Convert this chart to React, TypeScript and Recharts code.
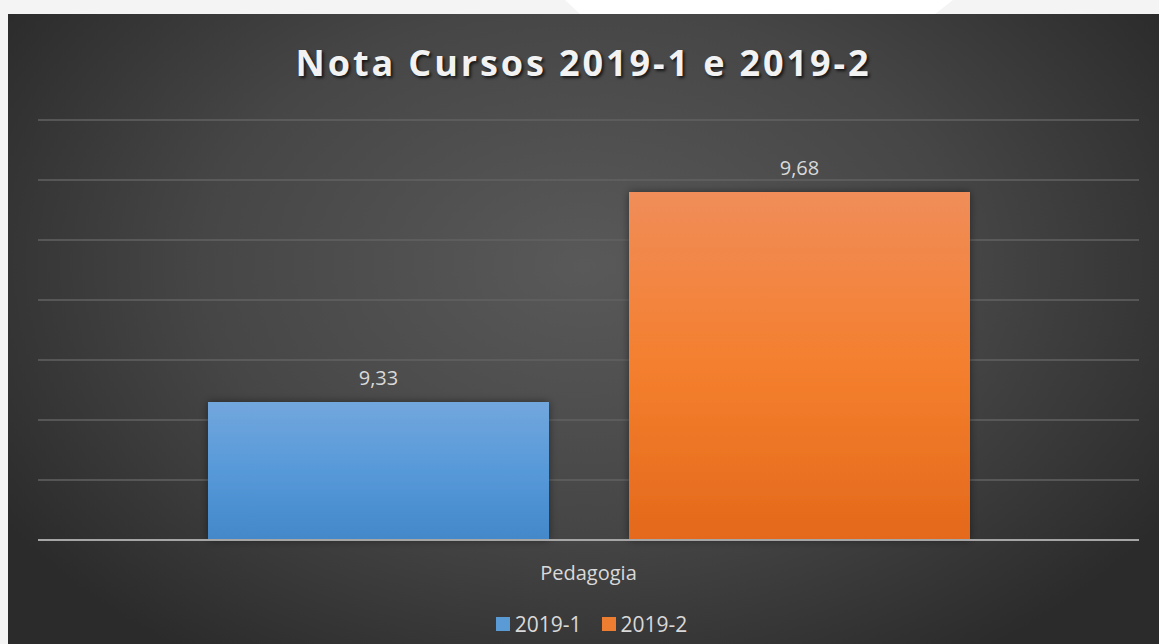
import { BarChart, Bar, XAxis, YAxis, CartesianGrid, LabelList } from "recharts";

const CATEGORIES = ["Pedagogia"];
const SEMESTER_1 = [9.33];
const SEMESTER_2 = [9.68];
const Y_TICKS = [9.1, 9.2, 9.3, 9.4, 9.5, 9.6, 9.7, 9.8];

const SERIES = [
  { key: "s1", name: "2019-1", fill: "url(#gradBlue)", swatch: "#5b9bd5" },
  { key: "s2", name: "2019-2", fill: "url(#gradOrange)", swatch: "#ed7d31" },
];

const FONT = "'Open Sans', 'Noto Sans', sans-serif";
const TEXT = "#d9d9d9";

const rows = CATEGORIES.map((c, i) => ({ name: c, s1: SEMESTER_1[i], s2: SEMESTER_2[i] }));

const fmt = (v: any) => Number(v).toFixed(2).replace(".", ",");

function Legend() {
  return (
    <div
      style={{
        position: "absolute",
        left: 8,
        width: 1151,
        top: 596,
        display: "flex",
        justifyContent: "center",
        gap: 20,
        fontFamily: FONT,
        fontSize: 21,
        color: TEXT,
      }}
    >
      {SERIES.map((s) => (
        <span key={s.key} style={{ display: "flex", alignItems: "center", gap: 5 }}>
          <span style={{ width: 14, height: 14, background: s.swatch, display: "inline-block" }} />
          {s.name}
        </span>
      ))}
    </div>
  );
}

export default function App() {
  return (
    <div style={{ position: "absolute", left: 0, top: 0, width: 1159, height: 644, background: "#f4f4f4", overflow: "hidden" }}>
      <div
        style={{
          position: "absolute",
          left: 560,
          top: 0,
          width: 400,
          height: 14,
          background: "#ffffff",
          clipPath: "polygon(5px 0, 393px 0, 375px 14px, 20px 14px)",
        }}
      />
      <div
        style={{
          position: "absolute",
          left: 8,
          top: 14,
          width: 1151,
          height: 630,
          background: "radial-gradient(ellipse 60% 75% at 50% 40%, #595959 0%, #464646 55%, #2b2b2b 100%)",
        }}
      >
        <div
          style={{
            position: "absolute",
            left: 0,
            width: 1151,
            top: 24,
            textAlign: "center",
            fontFamily: FONT,
            fontWeight: 700,
            fontSize: 36,
            letterSpacing: 2.9,
            color: "#f2f2f2",
            textShadow: "2px 2px 3px rgba(0,0,0,0.7)",
          }}
        >
          Nota Cursos 2019-1 e 2019-2
        </div>
        <div style={{ position: "absolute", left: 0, top: 0 }}>
          <BarChart width={1151} height={630} data={rows} margin={{ top: 106, right: 20, bottom: 0, left: 30 }} barGap={80} barSize={341}>
            <defs>
              <linearGradient id="gradBlue" x1="0" y1="0" x2="0" y2="1">
                <stop offset="0%" stopColor="#72a7dd" />
                <stop offset="50%" stopColor="#5799d9" />
                <stop offset="100%" stopColor="#4388ca" />
              </linearGradient>
              <linearGradient id="gradOrange" x1="0" y1="0" x2="0" y2="1">
                <stop offset="0%" stopColor="#f08d59" />
                <stop offset="50%" stopColor="#f47f2e" />
                <stop offset="100%" stopColor="#e4691b" />
              </linearGradient>
              <filter id="barShadow" x="-10%" y="-10%" width="120%" height="120%">
                <feDropShadow dx="0" dy="0" stdDeviation="4" floodColor="#000" floodOpacity="0.45" />
              </filter>
            </defs>
            <CartesianGrid vertical={false} stroke="#626262" strokeWidth={1.5} />
            <YAxis
              domain={[9.1, 9.8]}
              ticks={Y_TICKS}
              interval={0}
              width={0}
              tick={{ fontSize: 0, fill: "none" }}
              axisLine={false}
              tickLine={false}
            />
            <XAxis
              dataKey="name"
              height={104}
              axisLine={{ stroke: "#a6a6a6", strokeWidth: 2 }}
              tickLine={false}
              tickMargin={20}
              tick={{ fill: TEXT, fontSize: 20, fontFamily: FONT }}
            />
            {SERIES.map((s) => (
              <Bar key={s.key} dataKey={s.key} name={s.name} fill={s.fill} filter="url(#barShadow)" isAnimationActive={false}>
                <LabelList dataKey={s.key} position="top" offset={17} formatter={fmt} fill={TEXT} fontSize={20} fontFamily={FONT} />
              </Bar>
            ))}
          </BarChart>
        </div>
        <Legend />
      </div>
    </div>
  );
}
